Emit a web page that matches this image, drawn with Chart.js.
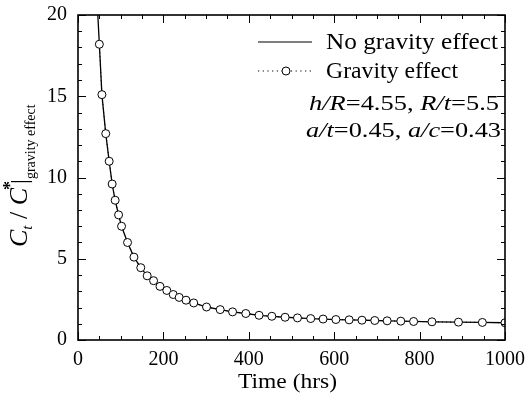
<!DOCTYPE html>
<html>
<head>
<meta charset="utf-8">
<script src="https://cdn.jsdelivr.net/npm/chart.js@4.4.0/dist/chart.umd.min.js"></script>
<style>
  html, body { margin: 0; padding: 0; background: #fff; }
  #wrap { width: 525px; height: 401px; }
</style>
</head>
<body>
<div id="wrap"><canvas id="chart"></canvas></div>
<script>
// data
const time = [50, 56, 65, 73, 80, 87, 95, 102, 116, 131, 147, 162, 177, 192, 208, 223, 237, 253, 271,
  301, 333, 362, 393, 424, 454, 485, 514, 545, 574, 604, 635, 665, 695, 724, 756, 786, 829, 891, 947, 1000];
const gravity = [18.2, 15.1, 12.7, 11.0, 9.6, 8.6, 7.7, 7.0, 6.0, 5.1, 4.45, 3.95, 3.65, 3.3, 3.05, 2.8, 2.62, 2.45, 2.28,
  2.03, 1.87, 1.73, 1.63, 1.52, 1.46, 1.4, 1.36, 1.32, 1.29, 1.26, 1.24, 1.22, 1.2, 1.18, 1.16, 1.14, 1.12, 1.1, 1.08, 1.06];
// the solid curve runs off the top of the frame
const noGravTime = [44].concat(time);
const noGravity = [21.2].concat(gravity);

const xTicks = [0, 200, 400, 600, 800, 1000];
const yTicks = [0, 5, 10, 15, 20];

const SERIF = "'Liberation Serif', 'Times New Roman', serif";

const toPts = (xs, ys) => xs.map((v, i) => ({ x: v, y: ys[i] }));

// width of a run list
function runsWidth(ctx, runs) {
  let w = 0;
  runs.forEach(r => { ctx.font = r.f; w += ctx.measureText(r.t).width + (r.dx || 0); });
  return w;
}

// draw text made of several font runs, squeezed/stretched to a width if given
function drawRuns(ctx, runs, x, y, width) {
  ctx.save();
  ctx.translate(x, y);
  if (width) ctx.scale(width / runsWidth(ctx, runs), 1);
  let cx = 0;
  runs.forEach(r => {
    ctx.font = r.f;
    ctx.fillText(r.t, cx + (r.dx || 0), r.dy || 0);
    cx += ctx.measureText(r.t).width + (r.dx || 0);
  });
  ctx.restore();
}

const decor = {
  id: 'decor',
  afterDatasetsDraw(chart) {
    const { ctx, chartArea: a, scales: { x, y } } = chart;
    ctx.save();
    ctx.strokeStyle = '#000';
    ctx.fillStyle = '#000';

    // frame
    ctx.lineWidth = 1.6;
    ctx.strokeRect(a.left, a.top, a.right - a.left, a.bottom - a.top);

    // inward ticks on all four sides
    ctx.lineWidth = 1;
    ctx.beginPath();
    for (let v = 0; v <= 1000; v += 50) {
      const px = Math.round(x.getPixelForValue(v)) + 0.5;
      const len = v % 200 === 0 ? 8 : 4;
      ctx.moveTo(px, a.bottom); ctx.lineTo(px, a.bottom - len);
      ctx.moveTo(px, a.top); ctx.lineTo(px, a.top + len);
    }
    for (let v = 0; v <= 20; v += 1) {
      const py = Math.round(y.getPixelForValue(v)) + 0.5;
      const len = v % 5 === 0 ? 8 : 4;
      ctx.moveTo(a.left, py); ctx.lineTo(a.left + len, py);
      ctx.moveTo(a.right, py); ctx.lineTo(a.right - len, py);
    }
    ctx.stroke();

    // legend
    ctx.lineWidth = 1.2;
    ctx.beginPath();
    ctx.moveTo(258, 42); ctx.lineTo(312, 42);
    ctx.stroke();
    ctx.setLineDash([1.2, 3.5]);
    ctx.beginPath();
    ctx.moveTo(258, 71); ctx.lineTo(312, 71);
    ctx.stroke();
    ctx.setLineDash([]);
    ctx.fillStyle = '#fff';
    ctx.beginPath();
    ctx.arc(286, 71, 4, 0, Math.PI * 2);
    ctx.fill();
    ctx.lineWidth = 1;
    ctx.stroke();
    ctx.fillStyle = '#000';
    ctx.textBaseline = 'alphabetic';
    ctx.textAlign = 'left';
    const lg = '23px ' + SERIF;
    drawRuns(ctx, [{ t: 'No gravity effect', f: lg }], 326, 49, 172);
    drawRuns(ctx, [{ t: 'Gravity effect', f: lg }], 326, 78, 132);

    // parameters
    const it = 'italic 22px ' + SERIF, rg = '22px ' + SERIF;
    drawRuns(ctx, [
      { t: 'h/R', f: it }, { t: '=4.55, ', f: rg }, { t: 'R/t', f: it }, { t: '=5.5', f: rg }
    ], 309, 110, 190);
    drawRuns(ctx, [
      { t: 'a/t', f: it }, { t: '=0.45, ', f: rg }, { t: 'a/c', f: it }, { t: '=0.43', f: rg }
    ], 306, 137, 195);

    // x title
    drawRuns(ctx, [{ t: 'Time (hrs)', f: '22px ' + SERIF }], 238, 388, 99);

    // y title, rotated
    ctx.translate(27, 247);
    ctx.rotate(-Math.PI / 2);
    const big = 'italic 26px ' + SERIF;
    drawRuns(ctx, [
      { t: 'C', f: big },
      { t: 't', f: 'italic 15px ' + SERIF, dy: 5 },
      { t: ' / ', f: '26px ' + SERIF },
      { t: 'C', f: big },
      { t: '*', f: 'bold 18px ' + SERIF, dy: -11, dx: -2 },
      { t: '|', f: '24px ' + SERIF, dx: -3 },
      { t: 'gravity effect', f: '14px ' + SERIF, dy: 8 }
    ], 0, 0);
    ctx.restore();
  }
};

new Chart(document.getElementById('chart'), {
  type: 'scatter',
  data: {
    datasets: [
      {
        label: 'Gravity effect',
        data: toPts(time, gravity),
        showLine: true,
        borderColor: '#000',
        borderWidth: 1,
        borderDash: [1, 3],
        pointRadius: 4,
        pointBackgroundColor: '#fff',
        pointBorderColor: '#000',
        pointBorderWidth: 1,
        order: 0
      },
      {
        label: 'No gravity effect',
        data: toPts(noGravTime, noGravity),
        showLine: true,
        borderColor: '#000',
        borderWidth: 1.3,
        pointRadius: 0,
        clip: 0,
        order: 1
      }
    ]
  },
  options: {
    responsive: true,
    maintainAspectRatio: false,
    animation: false,
    layout: { padding: { left: 0, right: 20, top: 12, bottom: 0 } },
    plugins: { legend: { display: false }, tooltip: { enabled: false } },
    scales: {
      x: {
        type: 'linear',
        min: 0, max: 1000,
        afterBuildTicks: s => { s.ticks = xTicks.map(v => ({ value: v })); },
        afterFit: s => { s.height = 61; },
        grid: { display: false },
        border: { display: false },
        ticks: {
          color: '#000', padding: 0, maxRotation: 0,
          font: { family: SERIF, size: 20 },
          callback: v => String(v)
        }
      },
      y: {
        type: 'linear',
        min: 0, max: 20,
        afterBuildTicks: s => { s.ticks = yTicks.map(v => ({ value: v })); },
        afterFit: s => { s.width = 78; },
        grid: { display: false },
        border: { display: false },
        ticks: {
          color: '#000', padding: 3,
          font: { family: SERIF, size: 20 },
          callback: v => String(v)
        }
      }
    }
  },
  plugins: [decor]
});
</script>
</body>
</html>
